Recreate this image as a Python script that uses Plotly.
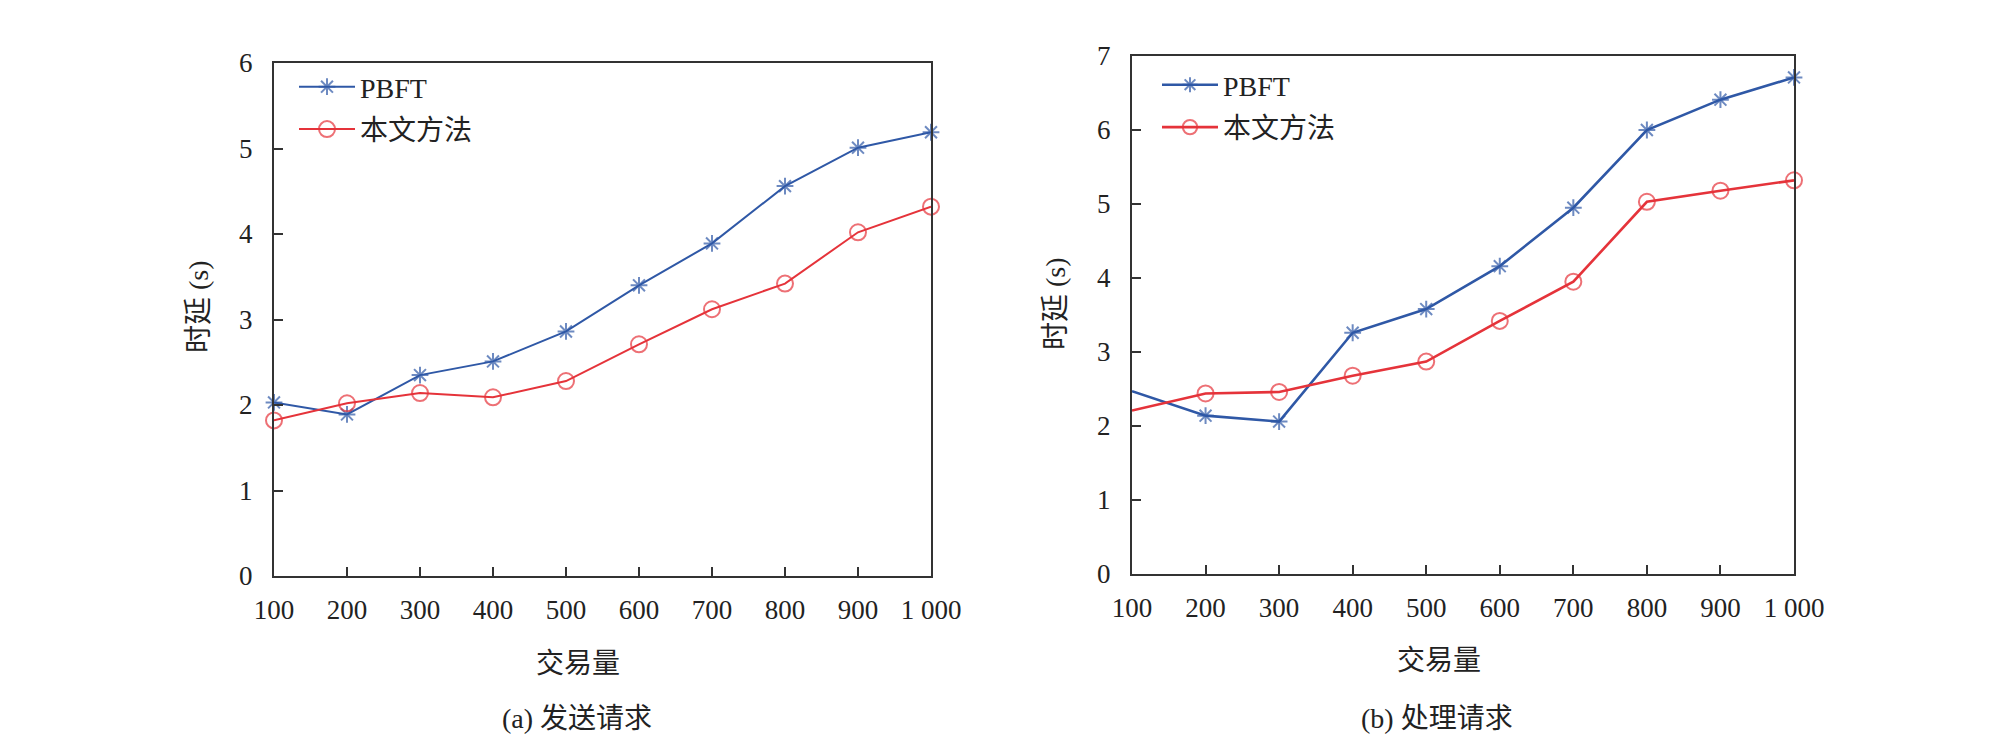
import plotly.graph_objects as go

x_vals = [100, 200, 300, 400, 500, 600, 700, 800, 900, 1000]
x_ticktext = ["100", "200", "300", "400", "500", "600", "700", "800", "900", "1 000"]

# (a) 发送请求
pbft_a = [2.03, 1.89, 2.35, 2.51, 2.86, 3.40, 3.89, 4.56, 5.01, 5.19]
ours_a = [1.82, 2.02, 2.14, 2.09, 2.28, 2.71, 3.12, 3.42, 4.02, 4.32]
# (b) 处理请求
pbft_b = [2.47, 2.14, 2.06, 3.26, 3.58, 4.16, 4.95, 6.00, 6.41, 6.71]
ours_b = [2.21, 2.44, 2.46, 2.68, 2.87, 3.42, 3.95, 5.03, 5.18, 5.32]

series_names = ["PBFT", "本文方法"]
y_title = "时延 (s)"
x_title = "交易量"
captions = ["(a) 发送请求", "(b) 处理请求"]

BLUE = "#2F58A6"
RED = "#E5333A"
AXC = "#333333"
FONT = "Liberation Serif, Times New Roman, Noto Sans CJK SC, serif"
W, H = 2008, 743
OFF = 8  # page body margin

fig = go.Figure()

def add_pair(pbft, ours, xa, ya, leg, lw, first_hidden):
    n = len(x_vals)
    sz_star = [14] * n
    sz_circ = [16] * n
    if first_hidden:
        sz_star[0] = 0
        sz_circ[0] = 0
    fig.add_trace(go.Scatter(
        x=x_vals, y=pbft, name=series_names[0], mode="lines+markers",
        line=dict(color=BLUE, width=lw),
        marker=dict(symbol="asterisk-open", size=sz_star, color=BLUE,
                    line=dict(color=BLUE, width=2)),
        xaxis=xa, yaxis=ya, legend=leg, legendgroup=leg + "a",
        cliponaxis=False))
    fig.add_trace(go.Scatter(
        x=x_vals, y=ours, name=series_names[1], mode="lines+markers",
        line=dict(color=RED, width=lw),
        marker=dict(symbol="circle-open", size=sz_circ, color=RED,
                    line=dict(color=RED, width=2)),
        xaxis=xa, yaxis=ya, legend=leg, legendgroup=leg + "b",
        cliponaxis=False))

add_pair(pbft_a, ours_a, "x", "y", "legend", 2, False)
add_pair(pbft_b, ours_b, "x2", "y2", "legend2", 2.6, True)

def px_x(p):
    return (p - OFF) / W

def px_y(p):
    return 1 - (p - OFF) / H

axis_common = dict(
    showline=True, linecolor=AXC, linewidth=2, mirror=True,
    ticks="inside", ticklen=9, tickwidth=2, tickcolor=AXC,
    showgrid=False, zeroline=False, automargin=False,
    tickfont=dict(family=FONT, size=27, color="#222222"),
)

fig.update_layout(
    width=W, height=H,
    margin=dict(l=0, r=0, t=0, b=0),
    paper_bgcolor="white", plot_bgcolor="white",
    showlegend=True,
    xaxis=dict(domain=[px_x(274), px_x(931)], range=[100, 1000], anchor="y",
               tickvals=x_vals, ticktext=x_ticktext, ticklabelstandoff=9, **axis_common),
    yaxis=dict(domain=[px_y(576), px_y(63)], range=[0, 6], anchor="x",
               tickvals=[0, 1, 2, 3, 4, 5, 6], ticklabelstandoff=14, **axis_common),
    xaxis2=dict(domain=[px_x(1132), px_x(1794)], range=[100, 1000], anchor="y2",
                tickvals=x_vals, ticktext=x_ticktext, ticklabelstandoff=9, **axis_common),
    yaxis2=dict(domain=[px_y(574), px_y(56)], range=[0, 7], anchor="x2",
                tickvals=[0, 1, 2, 3, 4, 5, 6, 7], ticklabelstandoff=14, **axis_common),
    legend=dict(x=px_x(294), y=px_y(62), xanchor="left", yanchor="top",
                font=dict(family=FONT, size=28, color="#222222"),
                bgcolor="rgba(0,0,0,0)", tracegroupgap=3, itemwidth=56),
    legend2=dict(x=px_x(1157), y=px_y(60), xanchor="left", yanchor="top",
                 font=dict(family=FONT, size=28, color="#222222"),
                 bgcolor="rgba(0,0,0,0)", tracegroupgap=3, itemwidth=56),
)

ann_font = dict(family=FONT, size=28, color="#222222")
annotations = [
    dict(text=x_title, x=px_x(578), y=px_y(663)),
    dict(text=x_title, x=px_x(1439), y=px_y(660)),
    dict(text=captions[0], x=px_x(577), y=px_y(718)),
    dict(text=captions[1], x=px_x(1437), y=px_y(718)),
    dict(text=y_title, x=px_x(198), y=px_y(307), textangle=-90),
    dict(text=y_title, x=px_x(1055), y=px_y(304), textangle=-90),
]
for a in annotations:
    fig.add_annotation(xref="paper", yref="paper", showarrow=False,
                       xanchor="center", yanchor="middle", font=ann_font, **a)

fig.write_html("out.html")
